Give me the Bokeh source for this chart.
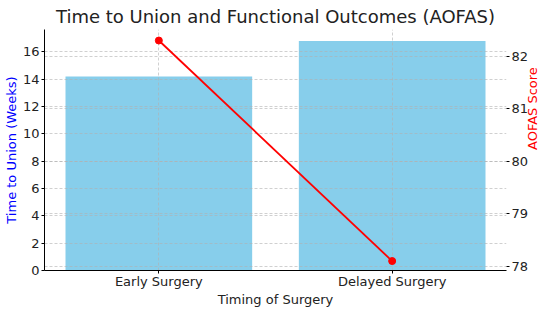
import math
from bokeh.plotting import figure
from bokeh.models import Range1d, LinearAxis, Grid, FixedTicker
from bokeh.embed import file_html
from bokeh.resources import INLINE

categories = ["Early Surgery", "Delayed Surgery"]
weeks_to_union = [14.2, 16.8]
aofas_score = [82.3, 78.1]
left_ticks = [0, 2, 4, 6, 8, 10, 12, 14, 16]
right_ticks = [78, 79, 80, 81, 82]

FONT = "DejaVu Sans"
xpos = list(range(len(categories)))

p = figure(x_range=Range1d(-0.49, 1.49),
           y_range=Range1d(0, 17.64),
           width=550, height=310,
           output_backend="svg", toolbar_location=None,
           min_border_left=43, min_border_right=40, min_border_top=27, min_border_bottom=40,
           title="Time to Union and Functional Outcomes (AOFAS)")
p.outline_line_color = None
p.background_fill_color = "white"
p.border_fill_color = "white"

p.title.align = "center"
p.title.text_font = FONT
p.title.text_font_size = "18px"
p.title.text_font_style = "normal"
p.title.text_color = "#222222"
p.title.standoff = 6

p.vbar(x=xpos, top=weeks_to_union, width=0.8, fill_color="#87ceeb",
       line_color=None, level="underlay")

p.extra_y_ranges = {"aofas": Range1d(77.92, 82.51)}
right = LinearAxis(y_range_name="aofas", ticker=FixedTicker(ticks=right_ticks))
p.add_layout(right, "right")

p.line(x=xpos, y=aofas_score, y_range_name="aofas", line_color="red",
       line_width=1.8, level="annotation")
p.scatter(x=xpos, y=aofas_score, y_range_name="aofas", size=7,
          fill_color="red", line_color="red", level="annotation")

p.xaxis[0].ticker = FixedTicker(ticks=xpos)
p.xaxis[0].major_label_overrides = {i: c for i, c in zip(xpos, categories)}
p.yaxis[0].ticker = FixedTicker(ticks=left_ticks)

for ax in [p.xaxis[0], p.yaxis[0], right]:
    ax.major_label_text_font = FONT
    ax.major_label_text_font_size = "13px"
    ax.major_label_text_color = "#222222"
    ax.axis_label_text_font = FONT
    ax.axis_label_text_font_size = "13px"
    ax.axis_label_text_font_style = "normal"
    ax.minor_tick_line_color = None
    ax.major_tick_in = 0
    ax.major_tick_out = 3
    ax.major_label_standoff = 2
    ax.axis_label_standoff = 1

p.xaxis[0].axis_label = "Timing of Surgery"
p.xaxis[0].axis_label_text_color = "#222222"
p.xaxis[0].major_label_standoff = 0
p.xaxis[0].axis_label_standoff = 0
p.yaxis[0].axis_label = "Time to Union (Weeks)"
p.yaxis[0].axis_label_text_color = "blue"
right.axis_line_color = None
right.axis_label = "AOFAS Score"
right.axis_label_text_color = "red"
right.axis_label_orientation = math.pi / 2

for g in p.grid:
    g.grid_line_color = "#b0b0b0"
    g.grid_line_alpha = 0.6
    g.grid_line_dash = "3 2"
    g.level = "glyph"

g2 = Grid(dimension=1, ticker=right.ticker, y_range_name="aofas",
          grid_line_color="#b0b0b0", grid_line_alpha=0.6, grid_line_dash="3 2", level="glyph")
p.add_layout(g2)

open("out.html", "w").write(file_html(p, INLINE))
